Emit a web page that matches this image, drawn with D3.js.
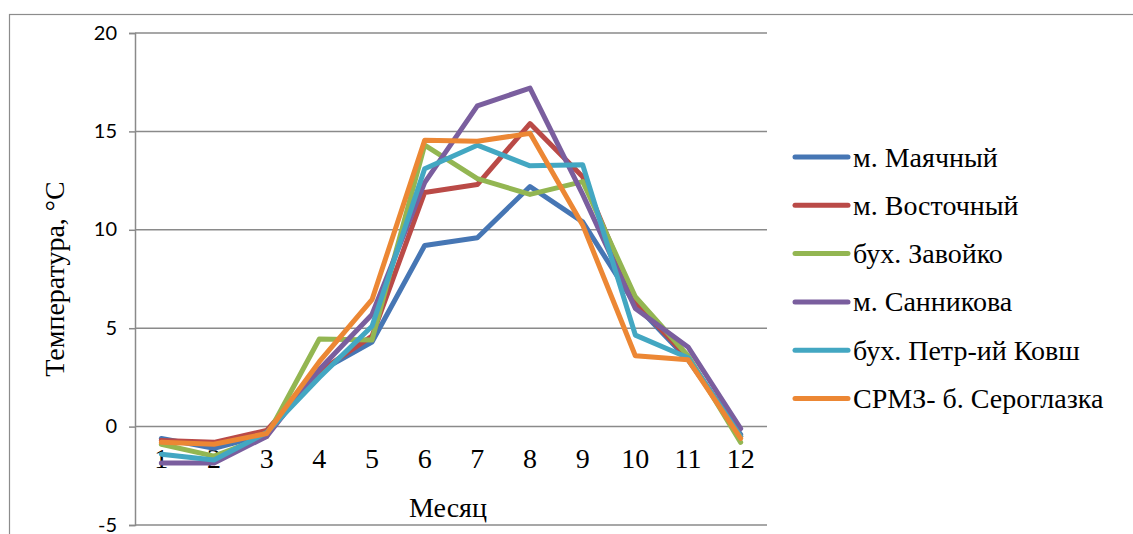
<!DOCTYPE html>
<html><head><meta charset="utf-8">
<script src="https://cdn.jsdelivr.net/npm/d3@7"></script>
<style>body{margin:0;background:#fff}svg{display:block}
.serif{font-family:"Liberation Serif","Nimbus Roman","FreeSerif","Noto Serif","DejaVu Serif","Times New Roman",Times,serif}
.num{font-family:Lato,"Open Sans",sans-serif}</style>
</head><body>
<svg id="c" width="1133" height="534"></svg>
<script>
const months = [1,2,3,4,5,6,7,8,9,10,11,12];
const yTicks = [-5,0,5,10,15,20];
const seriesNames = ["м. Маячный","м. Восточный","бух. Завойко","м. Санникова","бух. Петр-ий Ковш","СРМЗ- б. Сероглазка"];
const mayachny   = [-0.6,-1.1,-0.4,2.8,4.3,9.2,9.6,12.2,10.4,6.2,3.4,-0.4];
const vostochny  = [-0.7,-0.8,-0.2,2.8,4.6,11.9,12.3,15.4,12.7,6.3,3.5,-0.5];
const zavoyko    = [-0.9,-1.5,-0.5,4.45,4.4,14.3,12.6,11.8,12.45,6.6,3.6,-0.8];
const sannikova  = [-1.85,-1.85,-0.5,2.9,5.7,12.4,16.3,17.2,11.8,6.0,4.05,-0.1];
const kovsh      = [-1.4,-1.7,-0.3,2.5,5.1,13.1,14.3,13.25,13.3,4.65,3.5,-0.5];
const seroglazka = [-0.8,-0.9,-0.35,3.3,6.45,14.55,14.5,14.9,10.25,3.6,3.4,-0.6];
const seriesValues = [mayachny, vostochny, zavoyko, sannikova, kovsh, seroglazka];
const colors = ["#4676B4","#BA4A47","#93B652","#7A5E9E","#43A7C2","#EC8734"];

const svg = d3.select("#c");
const L = 135, R = 767, T = 33, B = 525;

svg.append("rect").attr("x",9.5).attr("y",14.5).attr("width",1140).attr("height",540)
  .attr("fill","none").attr("stroke","#8c8c8c").attr("stroke-width",1.2);

const x = d3.scaleBand().domain(months).range([L,R]).padding(0);
const y = d3.scaleLinear().domain([-5,20]).range([B,T]);

svg.append("g").selectAll("line").data(yTicks).join("line")
  .attr("x1",L).attr("x2",R).attr("y1",d=>y(d)).attr("y2",d=>y(d))
  .attr("stroke","#8a8a8a").attr("stroke-width",1.5);

const yAxis = svg.append("g").attr("transform",`translate(${L},0)`)
  .call(d3.axisLeft(y).tickValues(yTicks).tickSize(6).tickPadding(12).tickFormat(d=>String(d)));
yAxis.attr("font-family",null).attr("font-size",null);
yAxis.select(".domain").attr("stroke","#8a8a8a").attr("stroke-width",1.5);
yAxis.selectAll(".tick line").attr("stroke","#8a8a8a").attr("stroke-width",1.5);
yAxis.selectAll("text").attr("class","num").style("font-size","20px").attr("fill","#000").attr("dy","0.3em");

const xAxis = svg.append("g").attr("transform",`translate(0,${y(0)})`)
  .call(d3.axisBottom(x).tickSize(0).tickPadding(22));
xAxis.attr("font-family",null).attr("font-size",null);
xAxis.select(".domain").remove();
xAxis.selectAll("text").attr("class","serif").style("font-size","28px").attr("fill","#000");

const line = d3.line().x((d,i)=>x(months[i])+x.bandwidth()/2).y(d=>y(d));
svg.append("g").selectAll("path").data(seriesValues).join("path")
  .attr("d",line).attr("fill","none")
  .attr("stroke",(d,i)=>colors[i]).attr("stroke-width",5)
  .attr("stroke-linejoin","round").attr("stroke-linecap","round");

svg.append("text").attr("class","serif").attr("x",448).attr("y",517).attr("text-anchor","middle")
  .style("font-size","28px").text("Месяц");
svg.append("text").attr("class","serif").attr("transform","translate(64,279) rotate(-90)").attr("text-anchor","middle")
  .style("font-size","28px").text("Температура, °C");

const lg = svg.append("g").selectAll("g").data(seriesNames).join("g")
  .attr("transform",(d,i)=>`translate(795,${157 + i*48.3})`);
lg.append("line").attr("x1",0).attr("x2",53).attr("y1",0).attr("y2",0)
  .attr("stroke",(d,i)=>colors[i]).attr("stroke-width",5).attr("stroke-linecap","round");
lg.append("text").attr("class","serif").attr("x",58).attr("y",9.5)
  .style("font-size","28px").text(d=>d);
</script>
</body></html>
